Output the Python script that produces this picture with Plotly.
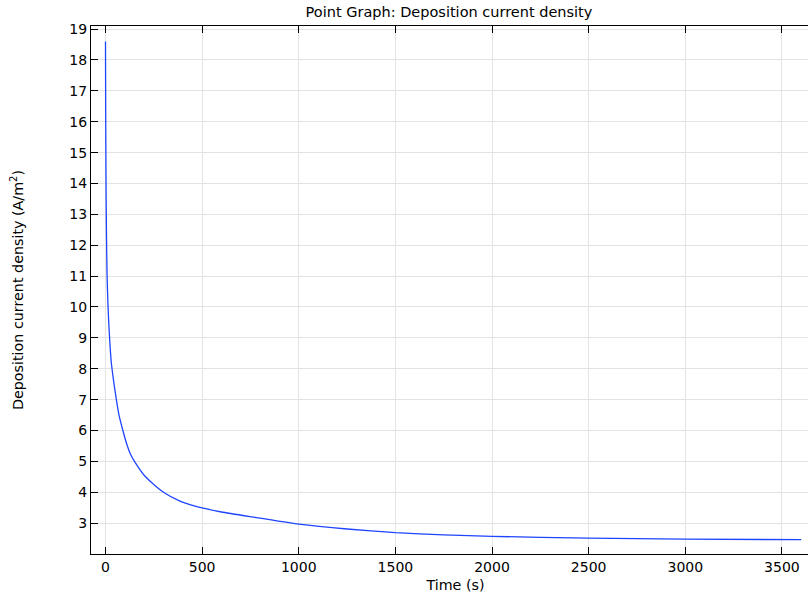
import plotly.graph_objects as go

time_s = [0, 1, 2, 3, 5, 8, 12, 16, 22, 30, 41, 55, 70, 90, 112, 130, 154, 200, 241, 300,
          380, 464, 500, 600, 759, 1000, 1250, 1500, 1750, 2000, 2500, 3000, 3600]
current_density = [18.6, 16.3, 14.9, 13.8, 12.4, 11.1, 10.2, 9.6, 8.9, 8.2, 7.65, 7.05, 6.5,
                   6.0, 5.52, 5.22, 4.96, 4.55, 4.3, 4.0, 3.73, 3.55, 3.49, 3.36, 3.2, 2.97,
                   2.81, 2.69, 2.62, 2.57, 2.515, 2.48, 2.465]

x_ticks = [0, 500, 1000, 1500, 2000, 2500, 3000, 3500]
y_ticks = list(range(3, 20))

font = "DejaVu Sans, Verdana, sans-serif"

fig = go.Figure()
fig.add_trace(go.Scatter(x=time_s, y=current_density, mode="lines",
                         line=dict(color="#1f45ff", width=1.3, shape="spline", smoothing=0.5),
                         showlegend=False, hoverinfo="skip"))

axis_common = dict(showline=True, linecolor="black", linewidth=1.2, mirror="ticks",
                   ticks="inside", ticklen=7, tickcolor="black", tickwidth=1,
                   showgrid=True, gridcolor="#e3e3e3", gridwidth=1, zeroline=False,
                   tickfont=dict(family=font, size=14, color="black"))

fig.update_layout(
    width=820, height=598,
    margin=dict(l=91, r=0, t=26, b=44),
    paper_bgcolor="white", plot_bgcolor="white",
    font=dict(family=font, size=13, color="black"),
    title=dict(text="Point Graph: Deposition current density", x=449 / 820, xanchor="center",
               y=1 - 12 / 598, yanchor="middle",
               font=dict(family=font, size=14.5, color="black")),
    xaxis=dict(range=[-75, 3697], tickvals=x_ticks, ticktext=[str(v) for v in x_ticks],
               title=dict(text="Time (s)", standoff=6, font=dict(family=font, size=14.3)),
               **axis_common),
    yaxis=dict(range=[2.0, 19.1], tickvals=y_ticks, ticktext=[str(v) for v in y_ticks],
               title=dict(text="Deposition current density (A/m<sup>2</sup>)", standoff=42,
                          font=dict(family=font, size=14.3)),
               **axis_common),
)

fig.write_html("out.html", config={"displayModeBar": False},
               post_script="document.body.style.margin='0';document.body.style.overflow='hidden';")
